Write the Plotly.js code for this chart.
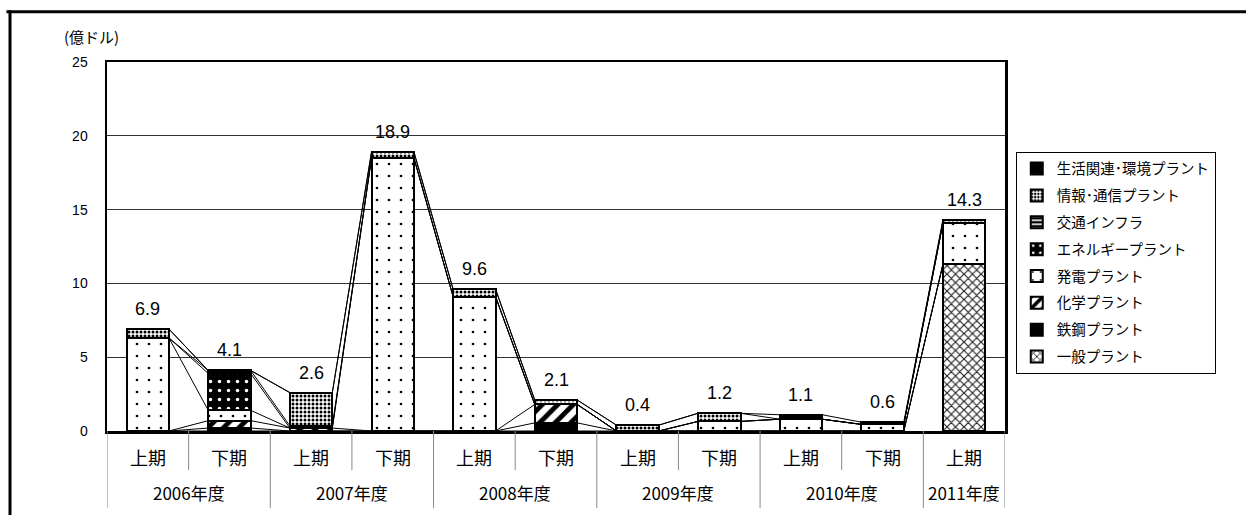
<!DOCTYPE html>
<html><head><meta charset="utf-8">
<script src="https://cdn.plot.ly/plotly-3.0.1.min.js"></script>
<style>body{margin:0;background:#fff}#chart{width:1246px;height:515px}</style>
</head><body><div id="chart"></div>
<script>
// ---- data ----
const years  = ['2006年度','2006年度','2007年度','2007年度','2008年度','2008年度','2009年度','2009年度','2010年度','2010年度','2011年度'];
const halves = ['上期','下期','上期','下期','上期','下期','上期','下期','上期','下期','上期'];
const totals = [6.9, 4.1, 2.6, 18.9, 9.6, 2.1, 0.4, 1.2, 1.1, 0.6, 14.3];
// stacked from bottom to top
const ippan     = [0, 0, 0, 0, 0, 0, 0, 0, 0, 0, 11.3];          // 一般プラント
const tekko     = [0, 0.2, 0, 0, 0, 0.55, 0, 0, 0, 0, 0];        // 鉄鋼プラント
const kagaku    = [0, 0.5, 0.2, 0, 0, 1.25, 0, 0, 0, 0, 0];      // 化学プラント
const hatsuden  = [6.3, 0.7, 0, 18.5, 9.1, 0, 0, 0.65, 0.8, 0.45, 2.8]; // 発電プラント
const energy    = [0, 2.5, 0, 0, 0, 0, 0, 0, 0, 0, 0];           // エネルギープラント
const kotsu     = [0, 0.2, 0.15, 0, 0, 0, 0, 0, 0, 0, 0];        // 交通インフラ
const joho      = [0.6, 0, 2.25, 0.4, 0.5, 0.3, 0.4, 0.55, 0, 0, 0.2]; // 情報・通信プラント
const seikatsu  = [0, 0, 0, 0, 0, 0, 0, 0, 0.3, 0.15, 0];        // 生活関連・環境プラント
const seriesNames = ['一般プラント','鉄鋼プラント','化学プラント','発電プラント','エネルギープラント','交通インフラ','情報･通信プラント','生活関連･環境プラント'];
const seriesVals  = [ippan, tekko, kagaku, hatsuden, energy, kotsu, joho, seikatsu];

// ---- styles ----
const patterns = [
  {shape:'x', fgcolor:'#222', bgcolor:'#fff', size:6, solidity:0.35},
  {shape:'',  fgcolor:'#000', bgcolor:'#000'},
  {shape:'/', fgcolor:'#000', bgcolor:'#fff', size:11, solidity:0.45},
  {shape:'.', fgcolor:'#000', bgcolor:'#fff', size:12, solidity:0.04},
  {shape:'.', fgcolor:'#fff', bgcolor:'#000', size:9, solidity:0.12},
  {shape:'-', fgcolor:'#fff', bgcolor:'#000', size:5, solidity:0.4},
  {shape:'.', fgcolor:'#000', bgcolor:'#fff', size:4, solidity:0.45},
  {shape:'',  fgcolor:'#000', bgcolor:'#000'}
];
const FONT = 'Liberation Sans, Arial, Noto Sans CJK JP, sans-serif';
const JFONT = 'Noto Sans CJK JP, Liberation Sans, sans-serif';
const W = 0.52;
const n = totals.length;

const traces = [];
seriesVals.forEach((vals, k) => {
  const p = patterns[k];
  const pat = p.shape ? {shape:p.shape, fgcolor:p.fgcolor, bgcolor:p.bgcolor, size:p.size, solidity:p.solidity, fillmode:'replace'} : {shape:''};
  traces.push({
    type:'bar', name:seriesNames[k], x:[years, halves],
    y: vals.map(v => v === 0 ? null : v), width:W,
    marker:{color:p.bgcolor, pattern:pat, line:{color:'#000', width:2}},
    legendgroup:'g'+k, legendrank: 100 - k, hoverinfo:'skip'
  });
});

// series lines (connect tops of each series between neighbouring bars)
const cum = seriesVals.map(() => new Array(n).fill(0));
for (let i = 0; i < n; i++) {
  let s = 0;
  seriesVals.forEach((vals, k) => { s += vals[i]; cum[k][i] = s; });
}
const lx = [], ly = [];
cum.forEach(c => {
  for (let i = 0; i < n - 1; i++) {
    lx.push(i + W/2, i + 1 - W/2, null);
    ly.push(c[i], c[i+1], null);
  }
});
traces.push({type:'scatter', mode:'lines', x:lx, y:ly, xaxis:'x2', yaxis:'y',
  line:{color:'#000', width:1}, showlegend:false, hoverinfo:'skip'});

const annotations = [];
// total labels
totals.forEach((t, i) => annotations.push({xref:'x2', yref:'y', x:i, y:t, text:t.toFixed(1),
  showarrow:false, yanchor:'bottom', yshift:8, font:{family:FONT, size:18, color:'#000'}}));
// category labels
halves.forEach((h, i) => annotations.push({xref:'x2', yref:'paper', x:i, y:-0.0705, text:h,
  showarrow:false, yanchor:'middle', font:{family:JFONT, size:18, color:'#000'}}));
// group labels
const groups = [];
years.forEach((y, i) => {
  const g = groups.find(o => o.name === y);
  if (g) g.idx.push(i); else groups.push({name:y, idx:[i]});
});
groups.forEach(g => {
  const c = g.idx.reduce((a,b)=>a+b,0) / g.idx.length;
  annotations.push({xref:'x2', yref:'paper', x:c, y:-0.168, text:g.name, showarrow:false,
    yanchor:'middle', font:{family:JFONT, size:17, color:'#000'}});
});
annotations.push({xref:'paper', yref:'paper', x:-0.05, y:1.068, text:'(億ドル)', showarrow:false,
  yanchor:'middle', font:{family:JFONT, size:15, color:'#000'}});

const shapes = [];
// short boundaries between halves
for (let i = 0; i < n - 1; i++) {
  const longLine = years[i] !== years[i+1];
  shapes.push({type:'line', xref:'x2', yref:'paper', x0:i+0.5, x1:i+0.5, y0:0, y1: longLine ? -0.209 : -0.106, line:{color:'#888', width:1}});
}
shapes.push({type:'line', xref:'x2', yref:'paper', x0:-0.5, x1:-0.5, y0:0, y1:-0.209, line:{color:'#888', width:1}});
shapes.push({type:'line', xref:'x2', yref:'paper', x0:n-0.5, x1:n-0.5, y0:0, y1:-0.209, line:{color:'#888', width:1}});
// outer frame (top & left)
shapes.push({type:'line', xref:'paper', yref:'paper', x0:-0.112, x1:1.3, y0:1.136, y1:1.136, line:{color:'#000', width:3}});
shapes.push({type:'line', xref:'paper', yref:'paper', x0:-0.108, x1:-0.108, y0:1.14, y1:-0.3, line:{color:'#000', width:3}});

const layout = {
  width:1246, height:515,
  margin:{l:107, r:241, t:62, b:84},
  paper_bgcolor:'#fff', plot_bgcolor:'#fff',
  barmode:'stack',
  font:{family:JFONT, color:'#000'},
  xaxis:{type:'multicategory', range:[-0.5, n-0.5], showline:true, mirror:true, linecolor:'#000', linewidth:2.5,
         ticks:'', showticklabels:false, showdividers:false,
         showgrid:false, zeroline:false},
  xaxis2:{overlaying:'x', range:[-0.5, n-0.5], visible:false, showgrid:false, zeroline:false},
  yaxis:{range:[0,25], dtick:5, showline:true, mirror:true, linecolor:'#000', linewidth:2.5,
         showgrid:true, gridcolor:'#333', gridwidth:1, zeroline:false,
         ticks:'outside', ticklen:14, tickcolor:'rgba(0,0,0,0)',
         tickfont:{family:FONT, size:14, color:'#000'}},
  legend:{x:1.012, y:0.757, xanchor:'left', yanchor:'top', traceorder:'grouped', tracegroupgap:5,
          bordercolor:'#000', borderwidth:1, bgcolor:'#fff', itemwidth:30,
          font:{family:JFONT, size:14.5, color:'#000'}},
  annotations:annotations,
  shapes:shapes
};
Plotly.newPlot('chart', traces, layout, {displayModeBar:false, staticPlot:true});
</script></body></html>
